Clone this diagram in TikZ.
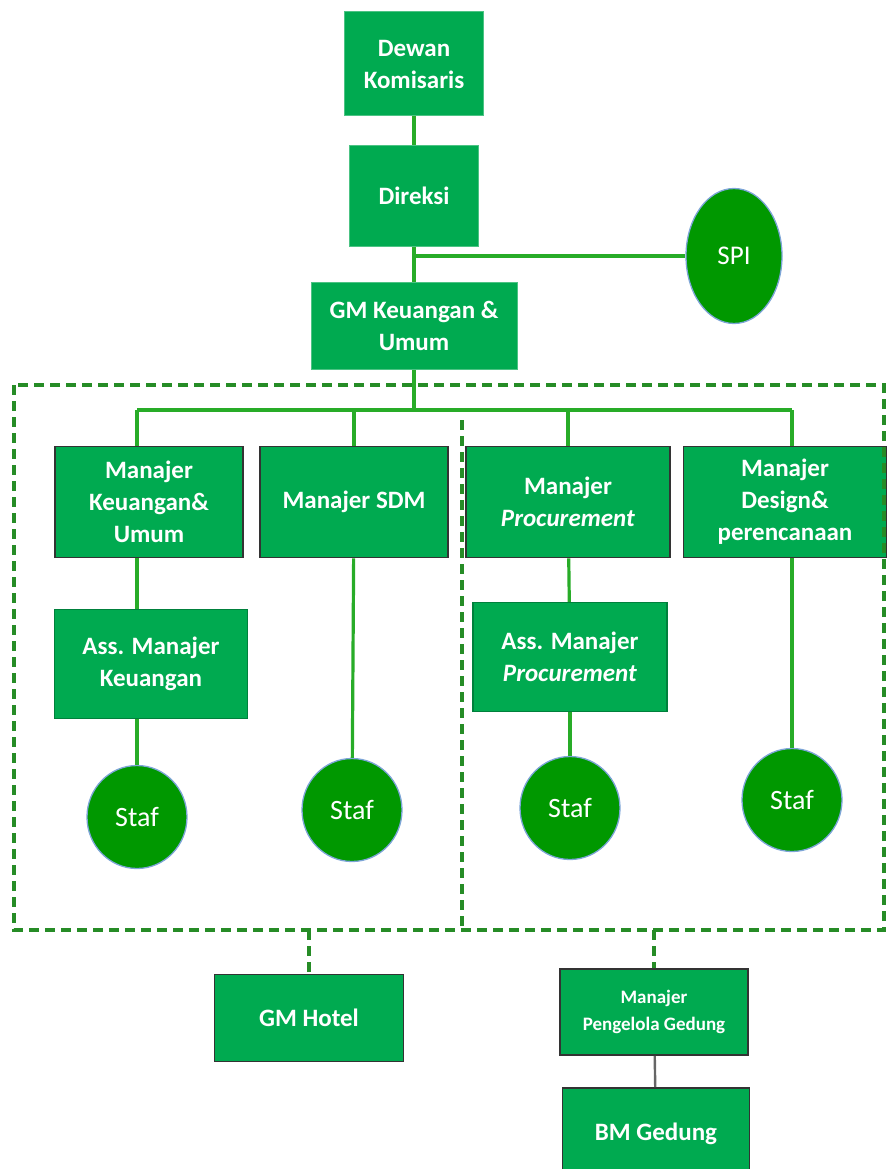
\documentclass[tikz,border=0pt]{standalone}
\usepackage{fontspec}
\setmainfont{Carlito}
\usepackage{tikz}
\usetikzlibrary{shapes.geometric}

\definecolor{boxgreen}{RGB}{0,170,80}
\definecolor{stafgreen}{RGB}{0,152,0}
\definecolor{linegreen}{RGB}{40,172,40}
\definecolor{dashgreen}{RGB}{38,140,38}
\definecolor{rimblue}{RGB}{125,165,215}

\begin{document}
\begin{tikzpicture}[x=1pt, y=-1pt,
  topbox/.style={draw=boxgreen!70!white, line width=1pt, rectangle, fill=boxgreen, text=white, align=center, inner sep=2pt, font=\fontsize{25}{32}\selectfont\bfseries},
  mgrbox/.style={topbox, draw=black!80, line width=1.8pt, minimum height=111pt},
  assbox/.style={topbox, draw=black!25!boxgreen, line width=1.2pt, minimum width=193pt, minimum height=109pt},
  stafnode/.style={draw=rimblue, line width=1.3pt, ellipse, fill=stafgreen, text=white, minimum width=100pt, minimum height=103pt, inner sep=0pt, font=\fontsize{28}{32}\selectfont},
  link/.style={draw=linegreen, line width=3.2pt},
  dashlink/.style={draw=dashgreen, line width=3.4pt, dash pattern=on 10pt off 6pt}
]
\useasboundingbox (0,0) rectangle (886,1169);

% Board and directors
\node[topbox, minimum width=139pt, minimum height=104pt] (dewan) at (414,64) {Dewan\\Komisaris};
\node[topbox, minimum width=129pt, minimum height=101pt] (direksi) at (414,196) {Direksi};
\node[stafnode, minimum width=96pt, minimum height=135pt, font=\fontsize{27}{32}\selectfont] (spi) at (734,256) {SPI};
\node[topbox, minimum width=206pt, minimum height=87pt] (gmku) at (414,326) {GM Keuangan \&\\Umum};
\coordinate (bus) at (414,410);

% Managers
\node[mgrbox, minimum width=188pt] (mku) at (149,502) {Manajer\\Keuangan\&\\Umum};
\node[mgrbox, minimum width=188pt] (msdm) at (354,502) {Manajer SDM};
\node[mgrbox, minimum width=204pt] (mproc) at (568,502) {Manajer\\\textit{Procurement}};
\node[mgrbox, minimum width=203pt] (mdp) at (785,502) {Manajer\\Design\&\\perencanaan};

% Assistants
\node[assbox] (askeu) at (151,664) {Ass. Manajer\\Keuangan};
\node[assbox, minimum width=194pt] (asproc) at (570,657) {Ass. Manajer\\\textit{Procurement}};

% Staff
\node[stafnode] (staf1) at (137,817) {Staf};
\node[stafnode] (staf2) at (352,810) {Staf};
\node[stafnode] (staf3) at (570,808) {Staf};
\node[stafnode] (staf4) at (792,800) {Staf};

% Units outside the frame
\node[mgrbox, minimum width=189pt, minimum height=87pt] (gmhotel) at (309,1018) {GM Hotel};
\node[mgrbox, minimum width=188pt, minimum height=86pt, font=\fontsize{19}{27}\selectfont\bfseries] (mpg) at (654,1012) {Manajer\\Pengelola Gedung};
\node[mgrbox, minimum width=187pt, minimum height=92pt] (bmg) at (656,1134) {BM Gedung};

% Frame
\coordinate (frameNW) at (14,385);
\coordinate (frameSE) at (884,930);
\draw[dashlink] (frameNW) rectangle (frameSE);
\draw[dashlink] (462,420) -- (462,926);

% Lines
\draw[link] (dewan) -- (direksi);
\draw[link] (direksi) -- (gmku);
\draw[link] (direksi |- spi) -- (spi);
\draw[link] (gmku) -- (bus);
\draw[link] (bus -| staf1) -- (bus -| staf4);
\draw[link] (bus -| staf1) -- (staf1 |- mku.north);
\draw[link] (bus -| msdm) -- (msdm);
\draw[link] (bus -| mproc) -- (mproc);
\draw[link] (bus -| staf4) -- (staf4 |- mdp.north);
\draw[link] (staf1 |- mku.south) -- (staf1 |- askeu.north);
\draw[link] (staf1 |- askeu.south) -- (staf1);
\draw[link] (msdm) -- (staf2);
\draw[link] (mproc) -- (asproc);
\draw[link] (asproc) -- (staf3);
\draw[link] (staf4 |- mdp.south) -- (staf4);
\draw[dashlink] (gmhotel |- frameSE) -- (gmhotel);
\draw[dashlink] (mpg |- frameSE) -- (mpg);
\draw[draw=black!60, line width=2.4pt] (mpg) -- (bmg);

\end{tikzpicture}
\end{document}
